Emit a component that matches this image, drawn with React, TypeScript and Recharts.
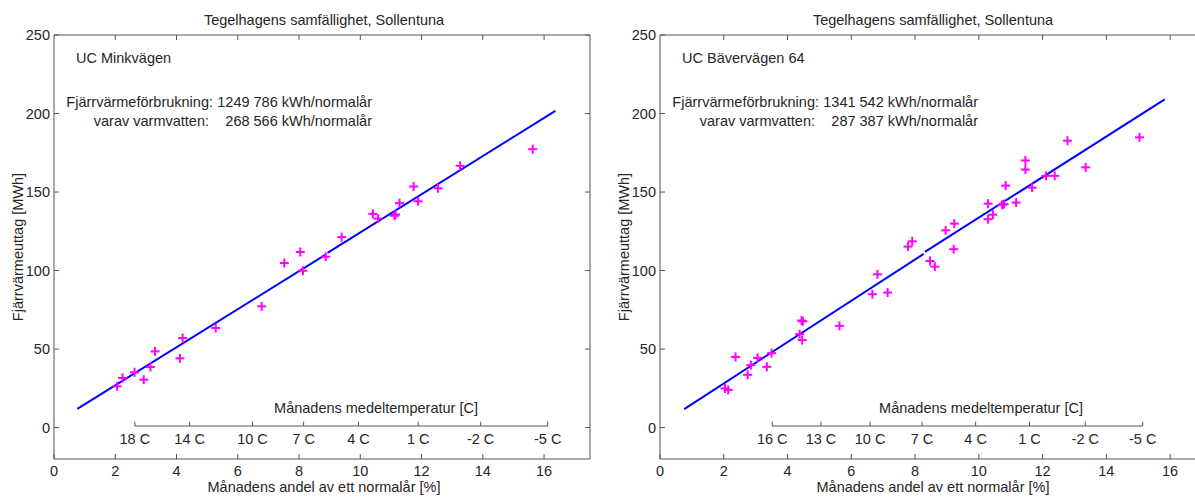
import React from "react"
import { ScatterChart, Scatter, XAxis, YAxis, ReferenceLine } from "recharts"

// UC Minkvägen (left panel)
const minkX = [2.06, 2.24, 2.63, 2.93, 3.15, 3.3, 4.11, 4.2, 5.28, 6.78, 7.52, 8.04, 8.13, 8.87, 9.39, 10.41, 10.58, 11.12, 11.15, 11.28, 11.74, 11.89, 12.54, 13.26, 15.63]
const minkY = [26.3, 31.6, 35.2, 30.5, 38.6, 48.5, 44.1, 57.0, 63.4, 77.2, 104.8, 111.8, 99.9, 108.8, 121.3, 136.1, 133.1, 134.9, 135.7, 142.9, 153.5, 144.1, 152.4, 166.7, 177.3]
const minkFitX = [0.76, 8.88, 8.93, 16.37]
const minkFitY = [11.9, 110.3, 111.3, 201.7]
const minkTempX = [2.64, 4.43, 6.48, 8.15, 9.94, 11.89, 13.93, 16.12]
const minkTempLabels = ["18 C", "14 C", "10 C", "7 C", "4 C", "1 C", "-2 C", "-5 C"]

// UC Bävervägen 64 (right panel)
const baverX = [2.04, 2.14, 2.37, 2.75, 2.85, 3.06, 3.35, 3.5, 4.38, 4.44, 4.48, 4.46, 5.63, 6.66, 6.82, 7.14, 7.78, 7.91, 8.47, 8.62, 8.96, 9.23, 9.21, 10.29, 10.29, 10.44, 10.73, 10.79, 10.84, 11.17, 11.46, 11.46, 11.67, 12.11, 12.38, 12.78, 13.35, 15.04]
const baverY = [24.9, 24.0, 45.0, 33.6, 39.8, 44.4, 38.7, 47.4, 59.5, 68.2, 67.7, 55.7, 64.8, 84.9, 97.6, 86.0, 115.3, 118.6, 106.1, 102.5, 125.6, 129.9, 113.6, 142.6, 132.7, 135.6, 141.9, 142.3, 154.1, 143.3, 170.1, 164.3, 152.8, 160.3, 160.3, 182.7, 165.7, 184.8]
const baverFitX = [0.76, 8.27, 8.31, 15.83]
const baverFitY = [11.8, 110.6, 111.9, 209.0]
const baverTempX = [3.52, 5.05, 6.59, 8.22, 9.9, 11.59, 13.34, 15.14]
const baverTempLabels = ["16 C", "13 C", "10 C", "7 C", "4 C", "1 C", "-2 C", "-5 C"]

const xTicks = [0, 2, 4, 6, 8, 10, 12, 14, 16]
const yTicks = [0, 50, 100, 150, 200, 250]

const FONT = "'Liberation Sans', Arial, sans-serif"
const FS = 14.5
const TXT = "#262626"
const AXIS = "#555"

const toPoints = (xs: number[], ys: number[]) => xs.map((x, i) => ({ x, y: ys[i] }))

const BottomTick = (p: any) => (
  <g>
    <line x1={p.x} x2={p.x} y1={p.y} y2={p.y - 5} stroke={AXIS} />
    <text x={p.x} y={p.y + 17} textAnchor="middle" fontSize={FS} fontFamily={FONT} fill={TXT}>
      {p.payload.value}
    </text>
  </g>
)
const TopTick = (p: any) => <line x1={p.x} x2={p.x} y1={p.y} y2={p.y + 5} stroke={AXIS} />
const LeftTick = (p: any) => (
  <g>
    <line x1={p.x} x2={p.x + 5} y1={p.y} y2={p.y} stroke={AXIS} />
    <text x={p.x - 4} y={p.y + 5} textAnchor="end" fontSize={FS} fontFamily={FONT} fill={TXT}>
      {p.payload.value}
    </text>
  </g>
)
const RightTick = (p: any) => <line x1={p.x} x2={p.x - 5} y1={p.y} y2={p.y} stroke={AXIS} />

const Plus = (p: any) => (
  <g stroke="#ff00ff" strokeWidth={2}>
    <line x1={p.cx - 4.5} x2={p.cx + 4.5} y1={p.cy} y2={p.cy} />
    <line x1={p.cx} x2={p.cx} y1={p.cy - 4.5} y2={p.cy + 4.5} />
  </g>
)

type PanelProps = {
  left: number
  plotWidth: number
  xMax: number
  xs: number[]
  ys: number[]
  fitX: number[]
  fitY: number[]
  tempX: number[]
  tempLabels: string[]
  name: string
  total: string
  water: string
  tempTitleX: number
}

function Panel(props: PanelProps) {
  const pts = toPoints(props.xs, props.ys)
  const fitA = toPoints(props.fitX.slice(0, 2), props.fitY.slice(0, 2))
  const fitB = toPoints(props.fitX.slice(2), props.fitY.slice(2))
  const tx = props.tempX
  const plotLeft = props.left + 54
  const center = plotLeft + props.plotWidth / 2
  const off = props.left
  const textStyle: React.CSSProperties = {
    position: "absolute",
    fontFamily: FONT,
    fontSize: FS,
    color: TXT,
    whiteSpace: "pre",
    lineHeight: "20px",
  }
  // right-aligned text ending at x
  const rightAt = (x: number, top: number, s: string) => (
    <div style={{ ...textStyle, right: 1195 - x, top, textAlign: "right" }}>{s}</div>
  )
  return (
    <>
      <div style={{ position: "absolute", left: props.left, top: 0 }}>
        <ScatterChart width={54 + props.plotWidth + 10} height={497} margin={{ top: 30, right: 0, bottom: 0, left: 0 }}>
          <XAxis type="number" dataKey="x" domain={[0, props.xMax]} ticks={xTicks} interval={0} height={38}
            tickSize={0} tickMargin={0} tickLine={false} tick={BottomTick} axisLine={{ stroke: AXIS }} allowDataOverflow />
          <XAxis xAxisId="top" orientation="top" type="number" dataKey="x" domain={[0, props.xMax]} ticks={xTicks.slice(1)}
            interval={0} height={5} tickSize={0} tickMargin={0} tickLine={false} tick={TopTick} axisLine={{ stroke: AXIS }} allowDataOverflow />
          <YAxis type="number" dataKey="y" domain={[-20, 250]} ticks={yTicks} interval={0} width={54}
            tickSize={0} tickMargin={0} tickLine={false} tick={LeftTick} axisLine={{ stroke: AXIS }} allowDataOverflow />
          <YAxis yAxisId="right" orientation="right" type="number" dataKey="y" domain={[-20, 250]} ticks={yTicks}
            interval={0} width={10} tickSize={0} tickMargin={0} tickLine={false} tick={RightTick} axisLine={{ stroke: AXIS }} allowDataOverflow />
          <ReferenceLine segment={[{ x: tx[0], y: 1 }, { x: tx[tx.length - 1], y: 1 }]} stroke={AXIS} />
          {tx.map((t, i) => (
            <ReferenceLine key={i} segment={[{ x: t, y: 1 }, { x: t, y: 3.8 }]} stroke={AXIS}
              label={{ value: props.tempLabels[i], position: "bottom", offset: 8, fontSize: FS, fontFamily: FONT, fill: TXT }} />
          ))}
          <Scatter data={fitA} line={{ stroke: "#0000ff", strokeWidth: 2 }} shape={() => <g />} isAnimationActive={false} />
          <Scatter data={fitB} line={{ stroke: "#0000ff", strokeWidth: 2 }} shape={() => <g />} isAnimationActive={false} />
          <Scatter data={pts} shape={Plus} isAnimationActive={false} />
        </ScatterChart>
      </div>
      <div style={{ ...textStyle, left: center + 2, top: 10, transform: "translateX(-50%)" }}>Tegelhagens samfällighet, Sollentuna</div>
      <div style={{ ...textStyle, left: center + 2, top: 477, transform: "translateX(-50%)" }}>Månadens andel av ett normalår [%]</div>
      <div style={{ ...textStyle, left: off + 18, top: 247, transform: "translate(-50%, -50%) rotate(-90deg)" }}>Fjärrvärmeuttag [MWh]</div>
      <div style={{ ...textStyle, left: plotLeft + 22, top: 48 }}>{props.name}</div>
      {rightAt(off + 213, 92, "Fjärrvärmeförbrukning:")}
      {rightAt(off + 372, 92, props.total + " kWh/normalår")}
      {rightAt(off + 209, 111, "varav varmvatten:")}
      {rightAt(off + 372, 111, props.water + " kWh/normalår")}
      <div style={{ ...textStyle, left: props.tempTitleX, top: 398, transform: "translateX(-50%)" }}>Månadens medeltemperatur [C]</div>
    </>
  )
}

export default function App() {
  return (
    <div style={{ position: "absolute", left: 0, top: 0, width: 1195, height: 497, overflow: "hidden", background: "#fff" }}>
      <Panel left={0} plotWidth={536} xMax={17.5} xs={minkX} ys={minkY} fitX={minkFitX} fitY={minkFitY}
        tempX={minkTempX} tempLabels={minkTempLabels} name="UC Minkvägen" total="1249 786" water="268 566"
        tempTitleX={376} />
      <Panel left={606} plotWidth={542} xMax={17} xs={baverX} ys={baverY} fitX={baverFitX} fitY={baverFitY}
        tempX={baverTempX} tempLabels={baverTempLabels} name="UC Bävervägen 64" total="1341 542" water="287 387"
        tempTitleX={981} />
    </div>
  )
}
